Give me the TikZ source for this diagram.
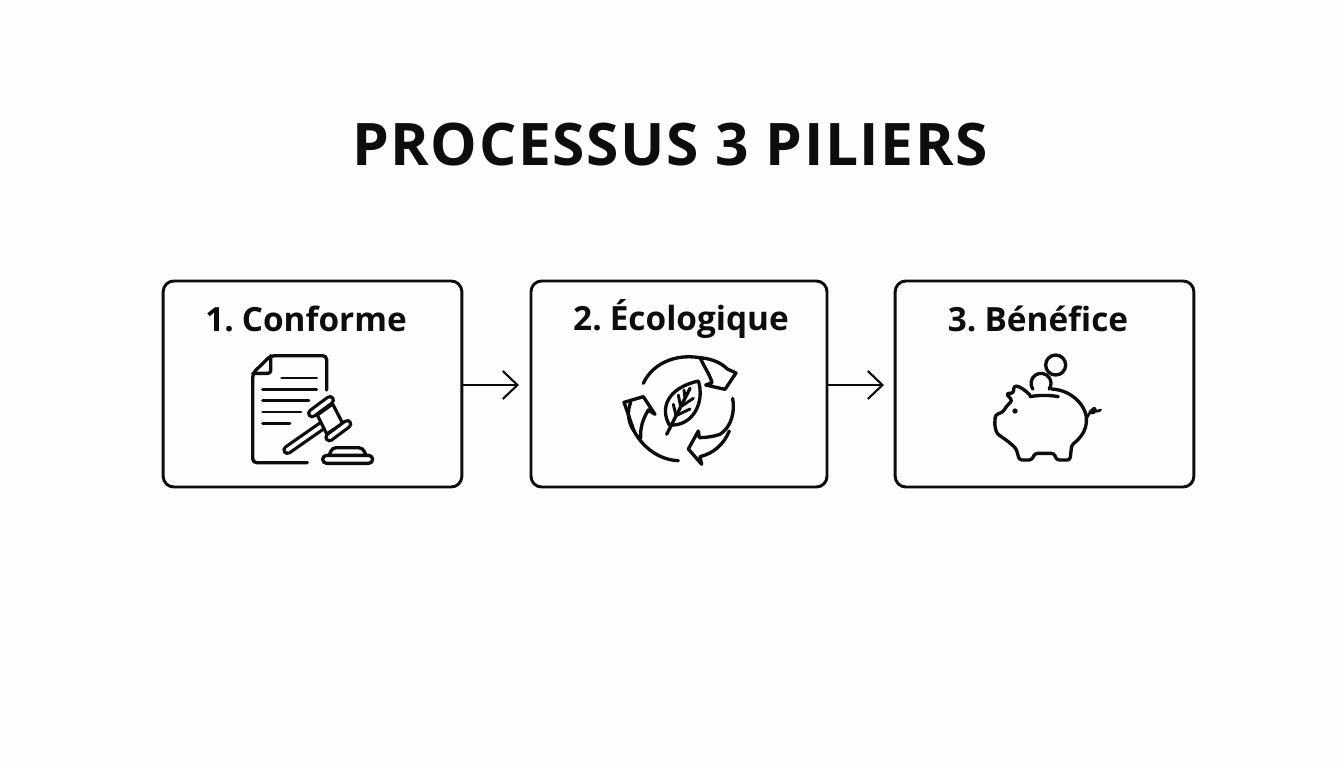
\documentclass[tikz,border=0pt]{standalone}
\usepackage{fontspec}
\setmainfont{Open Sans}
\newfontfamily\lblfont[WordSpace=0.6]{Open Sans}
\usetikzlibrary{arrows.meta}
\definecolor{ink}{HTML}{0D0D0D}
\definecolor{paper}{HTML}{FDFDFD}
\tikzset{
  stagebox/.style={draw=ink,line width=2.2pt,rounded corners=8pt,fill=paper,inner sep=0pt},
  flow/.style={draw=ink,line width=1.6pt,-{Straight Barb[length=11pt,width=21pt,line width=1.6pt]}},
  icon/.style={draw=ink,line width=2.5pt,line cap=round,line join=round},
  hollow/.style={draw=ink,line width=2.4pt,double=paper,double distance=2.8pt,line cap=round},
  ttl/.style={font=\fontsize{44}{52}\selectfont\bfseries\addfontfeature{LetterSpace=2.7},text=ink,inner sep=0pt},
  lbl/.style={font=\lblfont\fontsize{25}{30}\selectfont\bfseries,text=ink,inner sep=0pt}
}
\begin{document}
\begin{tikzpicture}[x=0.75pt,y=-0.75pt]
\useasboundingbox (0,0) rectangle (1344,768);
\fill[paper] (0,0) rectangle (1344,768);
\node[ttl] (title) at (670,145) {PROCESSUS 3 PILIERS};
\node[stagebox,minimum width=224pt,minimum height=154.5pt] (b1) at (312.5,384) {};
\node[stagebox,minimum width=222pt,minimum height=154.5pt] (b2) at (679,384) {};
\node[stagebox,minimum width=224pt,minimum height=154.5pt] (b3) at (1044.5,384) {};
\node[lbl] (l1) at (306,319) {1. Conforme};
\node[lbl] (l2) at (681,319) {2. Écologique};
\node[lbl] (l3) at (1038,319) {3. Bénéfice};
\coordinate (a1) at (519,385);
\coordinate (a2) at (884,385);
\draw[flow] (b1.east |- a1) -- (a1);
\draw[flow] (b2.east |- a2) -- (a2);
% gavel and document
\begin{scope}[shift={(230,340)},x=0.25pt,y=-0.25pt]
\draw[icon,rounded corners=3pt] (290,150) -- (290,47) -- (122,47) -- (68,100) -- (68,368) -- (232,368);
\draw[icon,rounded corners=2pt] (122,47) -- (122,100) -- (68,100);
\draw[icon,line width=2.2pt] (155,114) -- (260,114) (98,148) -- (260,148) (98,182) -- (237,182) (98,216) -- (213,216) (98,250) -- (180,250);
\draw[hollow] (172,330) -- (275,258);
\fill[paper,draw=ink,line width=2.4pt,line join=round] (262,225) -- (308,192) -- (338,250) -- (290,282) -- cycle;
\draw[hollow] (246,220) -- (300,180);
\draw[hollow] (298,292) -- (352,252);
\draw[icon,rounded corners=3pt] (298,346) -- (306,323) -- (398,323) -- (408,346);
\draw[icon,rounded corners=3pt] (278,370) -- (278,346) -- (428,346) -- (428,370) -- cycle;
\end{scope}
% recycling leaf
\begin{scope}[shift={(610,345)},x=0.25pt,y=-0.25pt]
\draw[icon] (100,115) .. controls (125,60) and (190,25) .. (270,38) .. controls (310,42) and (335,55) .. (352,72) -- (378,84) -- (345,133) -- (287,120) -- (306,113) .. controls (300,90) and (285,70) .. (270,38);
\draw[icon] (368,160) .. controls (375,200) and (365,245) .. (330,268) .. controls (310,275) and (285,278) .. (268,278) -- (265,258) -- (235,312) -- (275,358) -- (270,335) .. controls (310,325) and (340,300) .. (358,258);
\draw[icon] (205,347) .. controls (150,345) and (100,310) .. (72,258) -- (42,172) -- (100,155) -- (135,208) -- (115,195) .. controls (100,220) and (90,245) .. (92,280);
\draw[icon] (62,172) .. controls (50,200) and (55,235) .. (72,258);
\draw[icon] (178,240) .. controls (150,190) and (170,130) .. (265,108) .. controls (285,170) and (250,245) .. (178,240) -- cycle;
\draw[icon] (170,268) -- (240,130);
\draw[icon,line width=2.2pt] (198,212) -- (190,178) (212,185) -- (205,150) (198,212) -- (240,192) (212,185) -- (250,160) (225,160) -- (222,135);
\end{scope}
% piggy bank
\begin{scope}[shift={(980,345)},x=0.25pt,y=-0.25pt]
\draw[icon] (227,60) circle (30);
\draw[icon] (158.4,132.2) arc[start angle=145,end angle=395,radius=30];
\draw[icon] (150,155) .. controls (175,150) and (210,150) .. (235,155);
\draw[icon,rounded corners=2pt] (215,132) .. controls (280,135) and (325,190) .. (318,240) .. controls (312,265) and (295,285) .. (275,300) -- (270,345) -- (230,345) -- (222,325) -- (165,325) -- (155,345) -- (118,345) -- (108,310) -- (85,290) -- (50,265) -- (44,240) -- (46,210) -- (70,200) .. controls (78,185) and (88,175) .. (97,167) -- (78,145) -- (100,145) -- (102,122) .. controls (120,125) and (135,135) .. (150,150);
\fill[ink] (105,198) circle (2pt);
\draw[icon,line width=2pt] (318,222) .. controls (328,205) and (340,185) .. (345,190) .. controls (352,200) and (335,210) .. (330,200) .. controls (330,190) and (350,205) .. (362,195);
\end{scope}
\end{tikzpicture}
\end{document}
